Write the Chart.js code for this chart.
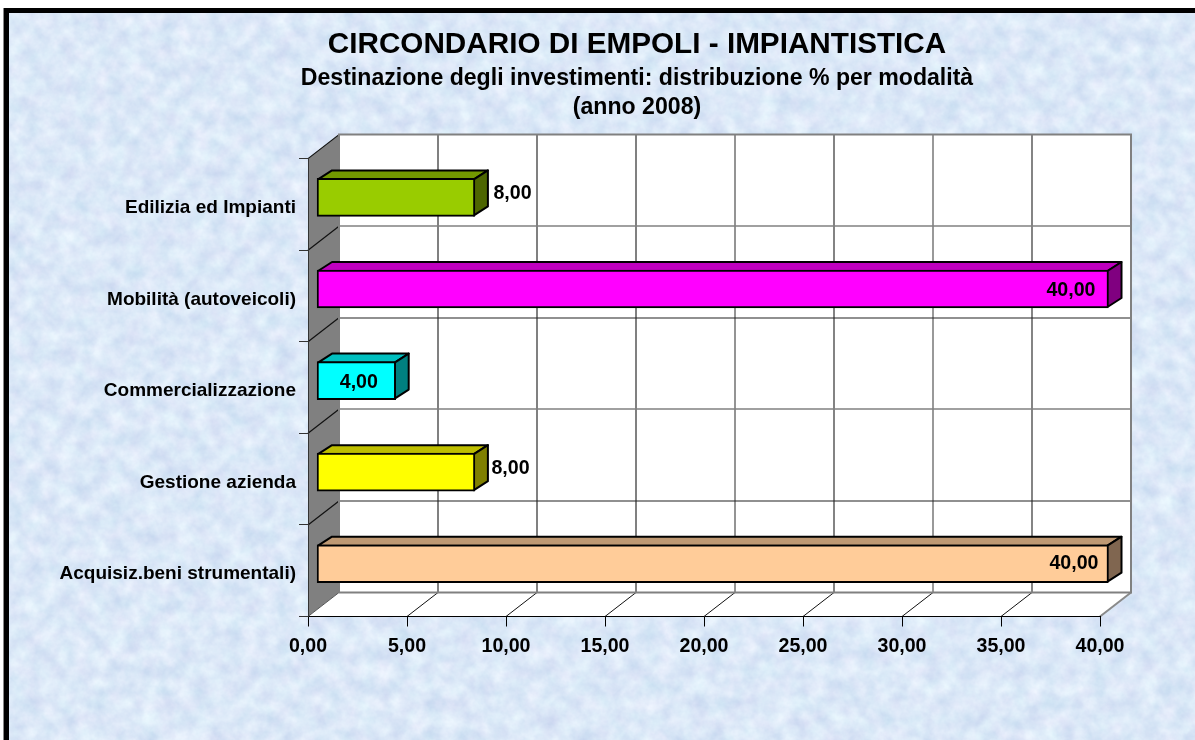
<!DOCTYPE html>
<html lang="it">
<head>
<meta charset="utf-8">
<title>Circondario di Empoli - Impiantistica</title>
<script src="https://cdn.jsdelivr.net/npm/chart.js@4/dist/chart.umd.min.js"></script>
<style>
html,body{margin:0;padding:0;background:#fff;width:1195px;height:740px;overflow:hidden}
#edge{position:absolute;left:3px;top:8px;right:0;bottom:0;background:#888}
#frame{position:absolute;left:4px;top:8px;right:0;bottom:0;background:#000}
#tex{position:absolute;left:9px;top:13px;width:1186px;height:727px;display:block}
canvas{position:absolute;left:0;top:0}
</style>
</head>
<body>
<div id="edge"></div>
<div id="frame"></div>
<svg id="tex" xmlns="http://www.w3.org/2000/svg" width="1186" height="727">
  <filter id="paper" x="0" y="0" width="100%" height="100%" color-interpolation-filters="sRGB">
    <feTurbulence type="fractalNoise" baseFrequency="0.06" numOctaves="4" seed="7"/>
    <feColorMatrix type="matrix" values="0.18 0.03 0 0 0.755  0.14 -0.03 0 0 0.855  0.07 0 0 0 0.935  0 0 0 0 1"/>
  </filter>
  <rect width="1186" height="727" filter="url(#paper)"/>
</svg>
<canvas id="chart" width="1195" height="740"></canvas>
<script>
const categories = ["Edilizia ed Impianti", "Mobilità (autoveicoli)", "Commercializzazione", "Gestione azienda", "Acquisiz.beni strumentali)"];
const values = [8, 40, 4, 8, 40];
const valueLabels = ["8,00", "40,00", "4,00", "8,00", "40,00"];
const barColors = ["#99CC00", "#FF00FF", "#00FFFF", "#FFFF00", "#FFCC99"];
const topColors = ["#739900", "#BF00BF", "#00BFBF", "#BFBF00", "#BF9973"];
const sideColors = ["#4D6600", "#800080", "#008080", "#808000", "#806650"];
const xTickLabels = ["0,00", "5,00", "10,00", "15,00", "20,00", "25,00", "30,00", "35,00", "40,00"];
const titleText = "CIRCONDARIO DI EMPOLI - IMPIANTISTICA";
const subtitleLines = ["Destinazione degli investimenti: distribuzione % per modalità", "(anno 2008)"];

const FONT = "'Liberation Sans', Arial, sans-serif";
const WALL = {dx: 31, dy: -24};
const BAR = {dx: 8.5, dy: -7, tx: 14, ty: -9};
const vGrid = [["#808080",2],["#808080",2],["#808080",2],["#707070",1.5],["#5a5a5a",1.5],["#555",1.2],["#333",1.2],["#222",1.2]];
const hGrid = [["#808080",1.5],["#222",1.2],["#808080",1.5],["#222",1.2],["#808080",1.5]];
/* label placement: [anchor, dx from anchor, dy from bar centre] */
const labelPlace = [["out",18.5,-4],["end",-13,1.5],["mid",2.5,2],["out",16.5,-4],["end",-10,0]];

function line(ctx,x1,y1,x2,y2,color,w){
  ctx.strokeStyle=color;ctx.lineWidth=w;ctx.beginPath();ctx.moveTo(x1,y1);ctx.lineTo(x2,y2);ctx.stroke();
}
function poly(ctx,pts,fill,stroke,w){
  ctx.beginPath();pts.forEach((p,i)=>i?ctx.lineTo(p[0],p[1]):ctx.moveTo(p[0],p[1]));ctx.closePath();
  if(fill){ctx.fillStyle=fill;ctx.fill();}
  if(stroke){ctx.strokeStyle=stroke;ctx.lineWidth=w;ctx.lineJoin="round";ctx.stroke();}
}

const box3d = {
  id:"box3d",
  afterLayout(chart){
    /* the titles are centred on the plot, not on the canvas */
    chart.boxes.forEach(b=>{
      if(b.options&&b.options.text){b.left=80;b.right=1194;}
    });
  },
  beforeDraw(chart){
    const {ctx,chartArea:a,scales:{x,y}}=chart;
    const d=WALL;
    ctx.save();
    /* side wall */
    poly(ctx,[[a.left,a.top],[a.left+d.dx,a.top+d.dy],[a.left+d.dx,a.bottom+d.dy],[a.left,a.bottom]],"#808080");
    /* floor */
    poly(ctx,[[a.left,a.bottom],[a.left+d.dx,a.bottom+d.dy],[a.right+d.dx,a.bottom+d.dy],[a.right,a.bottom]],"#fff");
    /* back wall */
    ctx.fillStyle="#fff";ctx.fillRect(a.left+d.dx,a.top+d.dy,a.right-a.left,a.bottom-a.top);
    /* gridlines on back wall */
    x.ticks.forEach((t,i)=>{
      const px=x.getPixelForValue(t.value);
      if(i>0&&i<x.ticks.length-1){
        const g=vGrid[i-1];
        line(ctx,Math.round(px+d.dx),a.top+d.dy,Math.round(px+d.dx),a.bottom+d.dy,g[0],g[1]);
        line(ctx,px,a.bottom,px+d.dx,a.bottom+d.dy,"#111",1);
      }
    });
    line(ctx,a.left,a.bottom,a.left+d.dx,a.bottom+d.dy,"#555",1);
    line(ctx,a.right,a.bottom,a.right+d.dx,a.bottom+d.dy,"#8a8a8a",2);
    categories.forEach((c,i)=>{
      const py=y.getPixelForValue(i-0.5);
      if(i>0){
        const g=hGrid[i-1];
        line(ctx,a.left+d.dx,Math.round(py+d.dy),a.right+d.dx,Math.round(py+d.dy),g[0],g[1]);
      }
      line(ctx,a.left,py,a.left+d.dx,py+d.dy,"#111",1.2);
    });
    /* wall frame */
    ctx.strokeStyle="#808080";ctx.lineWidth=2;ctx.lineJoin="miter";
    ctx.beginPath();
    ctx.moveTo(a.left+d.dx,a.bottom+d.dy);ctx.lineTo(a.left+d.dx,a.top+d.dy);
    ctx.lineTo(a.right+d.dx,a.top+d.dy);ctx.lineTo(a.right+d.dx,a.bottom+d.dy);ctx.lineTo(a.left+d.dx,a.bottom+d.dy);
    ctx.stroke();
    ctx.restore();
  },
  beforeDatasetsDraw(chart){
    const {ctx}=chart;
    ctx.save();
    ctx.translate(BAR.dx,BAR.dy);
    chart.getDatasetMeta(0).data.forEach((b,i)=>{
      const t=b.y-b.height/2+1,bt=b.y+b.height/2-1,l=b.base+1,r=b.x-1;
      poly(ctx,[[l,t],[l+BAR.tx,t+BAR.ty],[r+BAR.tx,t+BAR.ty],[r,t]],topColors[i],"#000",2);
      poly(ctx,[[r,t],[r+BAR.tx,t+BAR.ty],[r+BAR.tx,bt+BAR.ty],[r,bt]],sideColors[i],"#000",2);
    });
  },
  afterDatasetsDraw(chart){
    const {ctx}=chart;
    ctx.restore();
    ctx.save();
    ctx.font="bold 19.6px "+FONT;
    ctx.fillStyle="#000";
    ctx.textBaseline="middle";
    chart.getDatasetMeta(0).data.forEach((b,i)=>{
      const [where,dx,dy]=labelPlace[i];
      const yy=b.y+BAR.dy+dy;
      const end=b.x+BAR.dx;
      if(where==="out"){ctx.textAlign="left";ctx.fillText(valueLabels[i],end+dx,yy);}
      else if(where==="end"){ctx.textAlign="right";ctx.fillText(valueLabels[i],end+dx,yy);}
      else{ctx.textAlign="center";ctx.fillText(valueLabels[i],(b.base+b.x)/2+BAR.dx+dx,yy);}
    });
    ctx.restore();
  }
};

new Chart(document.getElementById("chart"),{
  type:"bar",
  data:{labels:categories,datasets:[{
    data:values,
    backgroundColor:barColors,
    borderColor:"#000",
    borderWidth:2,
    borderSkipped:false,
    barThickness:38
  }]},
  options:{
    indexAxis:"y",
    responsive:false,
    animation:false,
    layout:{padding:{left:10,right:95,top:0,bottom:20}},
    scales:{
      x:{
        min:0,max:40,
        afterFit(s){s.height=103.5;},
        ticks:{stepSize:5,color:"#000",padding:8,maxRotation:0,autoSkip:false,
          font:{family:FONT,size:19.6,weight:"bold"},
          callback:(v,i)=>xTickLabels[i]},
        grid:{drawOnChartArea:false,drawTicks:true,tickLength:10,color:"#000",lineWidth:1},
        border:{display:true,color:"#000",width:1}
      },
      y:{
        afterFit(s){s.width=298;},
        ticks:{color:"#000",padding:3,labelOffset:3.5,autoSkip:false,
          font:{family:FONT,size:19,weight:"bold"}},
        grid:{offset:true,drawOnChartArea:false,drawTicks:true,tickLength:9,color:"#333",lineWidth:1},
        border:{display:true,color:"#333",width:1}
      }
    },
    plugins:{
      legend:{display:false},
      tooltip:{enabled:false},
      title:{display:true,text:titleText,color:"#000",
        font:{family:FONT,size:29.7,weight:"bold",lineHeight:1},
        padding:{top:30,bottom:4}},
      subtitle:{display:true,text:subtitleLines,color:"#000",
        font:{family:FONT,size:23.1,weight:"bold",lineHeight:29/23.1},
        padding:{top:0,bottom:36.9}}
    }
  },
  plugins:[box3d]
});
</script>
</body>
</html>
